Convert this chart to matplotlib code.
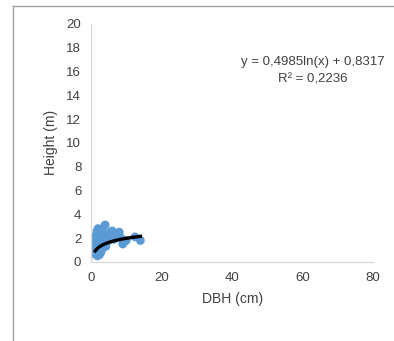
import numpy as np
import matplotlib
matplotlib.use('Agg')
import matplotlib.pyplot as plt
from matplotlib.lines import Line2D

plt.rcParams['font.family'] = ['Liberation Sans', 'DejaVu Sans']

dbh = [0.5, 0.6, 0.8, 1.0, 1.0, 1.2, 1.3, 1.5, 1.5, 1.7, 2.0, 2.0, 2.2, 2.4, 2.5,
       2.7, 3.0, 3.0, 3.2, 3.5, 3.8, 4.0, 4.2, 4.5, 5.0, 5.5, 6.0, 6.5, 7.0,
       8.0, 8.5, 9.0, 9.5, 10.0, 12.5, 14.0, 0.7, 1.1, 1.8, 2.3, 2.8, 3.3]
height = [1.0, 1.6, 1.3, 0.8, 1.9, 1.4, 2.2, 0.9, 1.7, 2.6, 1.2, 2.8, 2.0, 0.6, 1.5,
          2.4, 1.0, 2.1, 2.7, 1.6, 2.3, 3.1, 1.3, 2.0, 1.8, 2.5, 2.6, 1.9, 2.2,
          2.5, 2.0, 1.5, 1.7, 1.8, 2.1, 1.8, 0.7, 1.1, 0.5, 1.0, 0.8, 1.4]
coef_a = 0.4985
coef_b = 0.8317
x_ticks = [0, 20, 40, 60, 80]
y_ticks = list(range(0, 21, 2))


def main():
    fig = plt.figure(figsize=(3.94, 3.41), dpi=100)
    ax = fig.add_axes([0.231, 0.232, 0.716, 0.698])

    ax.scatter(dbh, height, s=40, color='#5b9bd5', edgecolors='none', zorder=2)
    xs = np.linspace(1.2, 14, 100)
    ax.plot(xs, coef_a * np.log(xs) + coef_b, color='black', lw=2.4, zorder=3)

    ax.set_xlim(0, 80)
    ax.set_ylim(0, 20)
    ax.set_xticks(x_ticks)
    ax.set_yticks(y_ticks)
    ax.tick_params(length=0, labelsize=9.5, colors='#404040', pad=7)
    for side in ['top', 'right']:
        ax.spines[side].set_visible(False)
    for side in ['left', 'bottom']:
        ax.spines[side].set_color('#d9d9d9')
        ax.spines[side].set_linewidth(1)

    ax.set_xlabel('DBH (cm)', fontsize=10, color='#404040', labelpad=6)
    ax.set_ylabel('Height (m)', fontsize=10, color='#404040', labelpad=6)

    ax.text(63, 16.8, 'y = 0,4985ln(x) + 0,8317', ha='center', va='center',
            fontsize=9.5, color='#404040')
    ax.text(63, 15.3, 'R² = 0,2236', ha='center', va='center',
            fontsize=9.5, color='#404040')

    fig.add_artist(Line2D([0.033, 1.0], [0.982, 0.982], color='#a0a0a0', lw=1))
    fig.add_artist(Line2D([0.033, 0.033], [0.0, 0.982], color='#a0a0a0', lw=1))

    fig.savefig('out.png', dpi=100)


if __name__ == '__main__':
    main()
